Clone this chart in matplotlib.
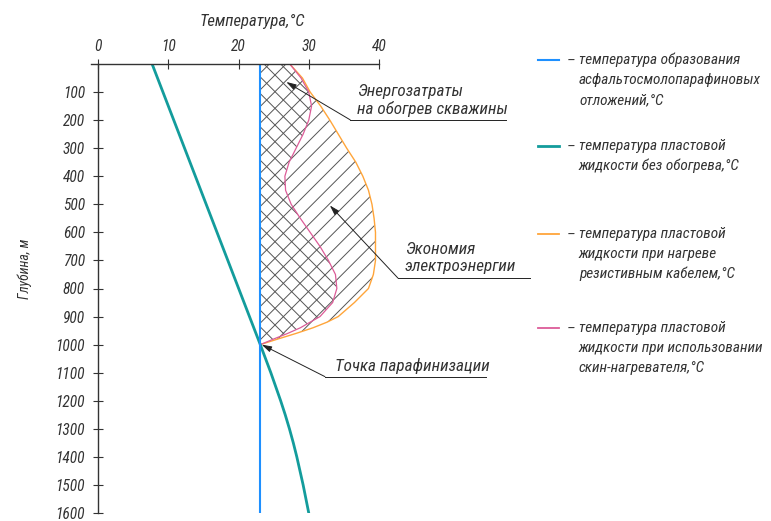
import matplotlib.pyplot as plt
from matplotlib.lines import Line2D

plt.rcParams['font.family'] = ['Roboto Condensed', 'Roboto', 'DejaVu Sans']
plt.rcParams['font.style'] = 'italic'
plt.rcParams['hatch.linewidth'] = 0.7

# глубина, м (участок с обогревом)
depth_heat = [0, 50, 100, 150, 200, 250, 300, 350, 400, 450, 500, 550,
              600, 650, 700, 750, 800, 850, 900, 920, 940, 960, 980, 1000]
# резистивный кабель
temp_cable = [27.3, 29.1, 30.2, 31.7, 33.0, 34.2, 35.4, 36.7, 37.7, 38.5, 39.0,
              39.3, 39.5, 39.5, 39.5, 39.2, 38.5, 36.5, 34.2, 32.6, 30.6, 28.2,
              25.6, 23.1]
# скин-нагреватель
temp_skin = [27.3, 28.9, 30.0, 30.4, 30.0, 29.2, 28.2, 27.2, 26.6, 26.7, 27.5,
             28.8, 30.2, 31.6, 32.8, 33.8, 34.0, 33.4, 31.6, 30.2, 28.8, 27.0,
             25.0, 23.1]
# без обогрева
depth_fluid = [0, 1000, 1050, 1100, 1150, 1200, 1250, 1300, 1350, 1400,
               1450, 1500, 1550, 1600]
temp_fluid = [7.7, 23.1, 23.85, 24.6, 25.3, 26.0, 26.65, 27.25, 27.8, 28.3,
              28.75, 29.2, 29.6, 30.0]
# образование АСПО
depth_aspo = [0, 1600]
temp_aspo = [23.1, 23.1]

x_ticks = [0, 10, 20, 30, 40]
y_ticks = list(range(100, 1700, 100))

c_blue = '#1e90ff'
c_teal = '#139c9c'
c_orange = '#ffa53a'
c_pink = '#dc5c98'
c_ink = '#333333'

fig = plt.figure(figsize=(7.71, 5.21), dpi=100)
ax = fig.add_axes([91 / 771, 8 / 521, 288 / 771, 449 / 521])

# штриховка
ax.fill_betweenx(depth_heat, temp_aspo[0], temp_cable, hatch='//',
                 facecolor='none', edgecolor='#555555', linewidth=0)
ax.fill_betweenx(depth_heat, temp_aspo[0], temp_skin, hatch='\\\\',
                 facecolor='none', edgecolor='#555555', linewidth=0)

ax.plot(temp_cable, depth_heat, color=c_orange, lw=1.0)
ax.plot(temp_skin, depth_heat, color=c_pink, lw=0.9)
ax.plot(temp_fluid, depth_fluid, color=c_teal, lw=2.0)
ax.plot(temp_aspo, depth_aspo, color=c_blue, lw=1.5)

ax.set_xlim(-1, 40)
ax.set_ylim(1600, 0)

for s in ['right', 'bottom']:
    ax.spines[s].set_visible(False)
ax.spines['left'].set_position(('data', 0))
for s in ['left', 'top']:
    ax.spines[s].set_color(c_ink)
    ax.spines[s].set_linewidth(1.0)

ax.xaxis.tick_top()
ax.xaxis.set_label_position('top')
ax.set_xticks(x_ticks)
ax.set_yticks(y_ticks)
ax.tick_params(axis='both', direction='inout', length=7, width=0.8,
               colors=c_ink, labelsize=11.2)
ax.tick_params(axis='x', pad=4)
ax.tick_params(axis='y', pad=6)

ax.set_xlabel('Температура,°C', fontsize=12, color=c_ink)
ax.xaxis.set_label_coords(0.559, 1.084)
ax.set_ylabel('Глубина, м', fontsize=10, color=c_ink)
ax.yaxis.set_label_coords(-0.205, 0.543)

# выноски
arrow = dict(arrowstyle='-|>,head_length=0.6,head_width=0.18', color='#222222',
             lw=0.7, shrinkA=0, shrinkB=0)
notes = [
    ('Энергозатраты\nна обогрев скважины', (26.8, 64), (35.9, 199), 58.1, (36.9, 190)),
    ('Экономия\nэлектроэнергии', (33.0, 504), (42.7, 763), 61.5, (43.7, 750)),
    ('Точка парафинизации', (23.3, 1000), (32.3, 1114), 55.2, (33.7, 1103)),
]
for text, head, start, end_x, pos in notes:
    ax.annotate('', xy=head, xytext=start, arrowprops=arrow, annotation_clip=False)
    ax.plot([start[0], end_x], [start[1], start[1]], color='#222222', lw=0.7,
            clip_on=False)
    ax.text(pos[0], pos[1], text, fontsize=12.3, color=c_ink, ha='left',
            va='bottom', linespacing=1.2, clip_on=False)

# легенда
legend = [
    (c_blue, 1.5, 60, ['температура образования', 'асфальтосмолопарафиновых',
                       'отложений,°C']),
    (c_teal, 2.0, 146, ['температура пластовой', 'жидкости без обогрева,°C']),
    (c_orange, 1.3, 234, ['температура пластовой', 'жидкости при нагреве',
                          'резистивным кабелем,°C']),
    (c_pink, 1.3, 328, ['температура пластовой', 'жидкости при использовании',
                        'скин-нагревателя,°C']),
]
for color, lw, y0, lines in legend:
    fy = 1 - y0 / 521
    fig.add_artist(Line2D([538 / 771, 559 / 771], [fy, fy], color=color, lw=lw,
                          transform=fig.transFigure))
    fig.text(567 / 771, fy - 2 / 521, '–', fontsize=11, color=c_ink, va='center')
    for i, line in enumerate(lines):
        fig.text(579 / 771, 1 - (y0 + 20 * i) / 521, line, fontsize=11,
                 color=c_ink, va='center')

fig.savefig('out.png', dpi=100)
